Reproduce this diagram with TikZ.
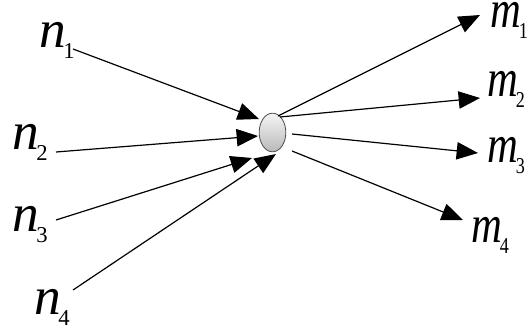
\documentclass[tikz,border=0pt]{standalone}
\usepackage{fontspec}
\setmainfont{Liberation Serif}
\usetikzlibrary{arrows.meta,shapes.geometric}
\tikzset{
  hub/.style={ellipse, draw=gray!60!black, line width=0.6pt, top color=gray!8, bottom color=gray!55, minimum width=20pt, minimum height=29pt, inner sep=0pt},
  edgearr/.style={line width=0.9pt, -{Triangle[length=16pt,width=13pt]}},
  lab/.style={anchor=base west, inner sep=0pt, font=\fontsize{40}{42}\selectfont\itshape},
  mlab/.style={lab, xscale=0.8}
}
\newcommand{\lbl}[2]{#1\kern-2pt\raisebox{-8pt}{\fontsize{17}{17}\selectfont\upshape #2}}
\begin{document}
\begin{tikzpicture}[x=0.75pt,y=0.75pt,yscale=-1,xscale=1]
\useasboundingbox (0,0) rectangle (531,327);

%Shape: Ellipse
\node[hub] (h) at (272.5,132.5) {};

% Text Node
\node[lab] (n1) at (39,48) {\lbl{n}{1}};
% Text Node
\node[lab] (n2) at (12,150) {\lbl{n}{2}};
% Text Node
\node[lab] (n3) at (12,232) {\lbl{n}{3}};
% Text Node
\node[lab] (n4) at (34,315) {\lbl{n}{4}};
% Text Node
\node[mlab] (m1) at (490,28) {\lbl{m}{1}};
% Text Node
\node[mlab] (m2) at (487,97) {\lbl{m}{2}};
% Text Node
\node[mlab] (m3) at (487,163) {\lbl{m}{3}};
% Text Node
\node[mlab] (m4) at (471,243) {\lbl{m}{4}};

%Coordinates: line ends
\coordinate (s1) at (73,49);   \coordinate (t1) at (259,119);
\coordinate (s2) at (56,152);  \coordinate (t2) at (258,136);
\coordinate (s3) at (56,220);  \coordinate (t3) at (252,158);
\coordinate (s4) at (73,290);  \coordinate (t4) at (276,154);
\coordinate (o1) at (278,116); \coordinate (u1) at (480,15);
\coordinate (o2) at (280,117); \coordinate (u2) at (480,98);
\coordinate (o3) at (292,134); \coordinate (u3) at (478,153);
\coordinate (o4) at (292,151); \coordinate (u4) at (463,220);

%Inputs
\draw[edgearr] (s1) -- (t1);
\draw[edgearr] (s2) -- (t2);
\draw[edgearr] (s3) -- (t3);
\draw[edgearr] (s4) -- (t4);
%Outputs
\draw[edgearr] (o1) -- (u1);
\draw[edgearr] (o2) -- (u2);
\draw[edgearr] (o3) -- (u3);
\draw[edgearr] (o4) -- (u4);

\end{tikzpicture}
\end{document}
